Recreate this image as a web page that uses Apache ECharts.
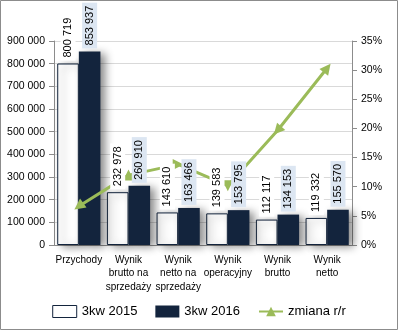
<!DOCTYPE html>
<html><head><meta charset="utf-8">
<script src="https://cdn.jsdelivr.net/npm/echarts@6/dist/echarts.min.js"></script>
<style>html,body{margin:0;padding:0;background:#fff}#c{width:398px;height:330px}</style>
</head><body><div id="c"></div>
<script>
var categories = ['Przychody', 'Wynik\nbrutto na\nsprzedaży', 'Wynik\nnetto na\nsprzedaży', 'Wynik\noperacyjny', 'Wynik\nbrutto', 'Wynik\nnetto'];
var values2015 = [800719, 232978, 143610, 139583, 112117, 119332];
var values2016 = [853937, 260910, 163466, 153795, 134153, 155570];
var changeYoY = [6.65, 11.99, 13.83, 10.18, 19.65, 30.37];
var leftTicks = [0, 900000, 100000];
var rightTicks = [0, 35, 5];
var seriesNames = ['3kw 2015', '3kw 2016', 'zmiana r/r'];
var markerRotation = [126, 0, -90, 180, 138, -38];

var FONT = 'Liberation Sans';
var NAVY = '#13243d';
var GREEN = '#9bbb59';
function fmtThousands(v){ return String(v).replace(/\B(?=(\d{3})+(?!\d))/g, ' '); }

var chart = echarts.init(document.getElementById('c'), null, {renderer:'canvas'});
var barShadow = {shadowColor:'rgba(0,0,0,0.45)', shadowBlur:8, shadowOffsetX:5, shadowOffsetY:2};
function valueLabel(bg){
  return {show:true, position:'top', rotate:90, align:'left', verticalAlign:'middle', distance:3,
    fontFamily:FONT, fontSize:11, color:'#000', backgroundColor:bg, padding:[2,3],
    formatter:function(p){return fmtThousands(p.value);}};
}
chart.setOption({
  animation:false,
  textStyle:{fontFamily:FONT},
  graphic:[{type:'rect', shape:{x:0.5, y:0.5, width:397, height:329}, style:{fill:'none', stroke:'#8c8c8c', lineWidth:1}, z:-10}],
  grid:{left:54, right:46, top:41, bottom:85, containLabel:false},
  legend:{
    bottom:7, left:'center', itemWidth:24, itemHeight:12, itemGap:18,
    textStyle:{fontFamily:FONT, fontSize:13, color:'#000'},
    data:[
      {name:seriesNames[0], icon:'rect', itemStyle:{color:'#fff', borderColor:NAVY, borderWidth:1}},
      {name:seriesNames[1], icon:'rect'},
      {name:seriesNames[2]}
    ]
  },
  xAxis:[{
    type:'category', data:categories,
    axisLine:{lineStyle:{color:'#8c8c8c'}},
    axisTick:{show:false},
    axisLabel:{fontFamily:FONT, fontSize:10, color:'#000', lineHeight:13.5, margin:8, interval:0}
  },{
    type:'category', data:categories, show:false
  }],
  yAxis:[
    {type:'value', min:leftTicks[0], max:leftTicks[1], interval:leftTicks[2],
     axisLine:{show:true, lineStyle:{color:'#8c8c8c'}},
     axisTick:{show:true, length:5, lineStyle:{color:'#8c8c8c'}},
     splitLine:{lineStyle:{color:'#d9d9d9'}},
     axisLabel:{fontFamily:FONT, fontSize:10.5, color:'#000', margin:9, formatter:fmtThousands}},
    {type:'value', min:rightTicks[0], max:rightTicks[1], interval:rightTicks[2], position:'right',
     axisLine:{show:true, lineStyle:{color:'#8c8c8c'}},
     axisTick:{show:true, length:5, lineStyle:{color:'#8c8c8c'}},
     splitLine:{show:false},
     axisLabel:{fontFamily:FONT, fontSize:10.5, color:'#000', margin:9, formatter:'{value}%'}}
  ],
  series:[
    {name:seriesNames[0], type:'bar', data:values2015, barGap:'0%', barCategoryGap:'13%',
     itemStyle:Object.assign({color:'#fff', borderColor:NAVY, borderWidth:1}, barShadow), z:2},
    {name:seriesNames[1], type:'bar', data:values2016,
     itemStyle:Object.assign({color:NAVY}, barShadow), z:2},
    {name:seriesNames[2], type:'line', yAxisIndex:1, data:changeYoY,
     symbol:'triangle', symbolSize:11,
     symbolRotate:function(v, p){return markerRotation[p.dataIndex];},
     lineStyle:{color:GREEN, width:3}, itemStyle:{color:GREEN}, z:3},
    {name:'lbl2015', type:'bar', xAxisIndex:1, data:values2015, barGap:'0%', barCategoryGap:'13%',
     itemStyle:{color:'rgba(0,0,0,0)'}, label:valueLabel('#fff'), silent:true, z:5, legendHoverLink:false},
    {name:'lbl2016', type:'bar', xAxisIndex:1, data:values2016,
     itemStyle:{color:'rgba(0,0,0,0)'}, label:valueLabel('#dce6f2'), silent:true, z:5, legendHoverLink:false}
  ]
});
</script></body></html>
